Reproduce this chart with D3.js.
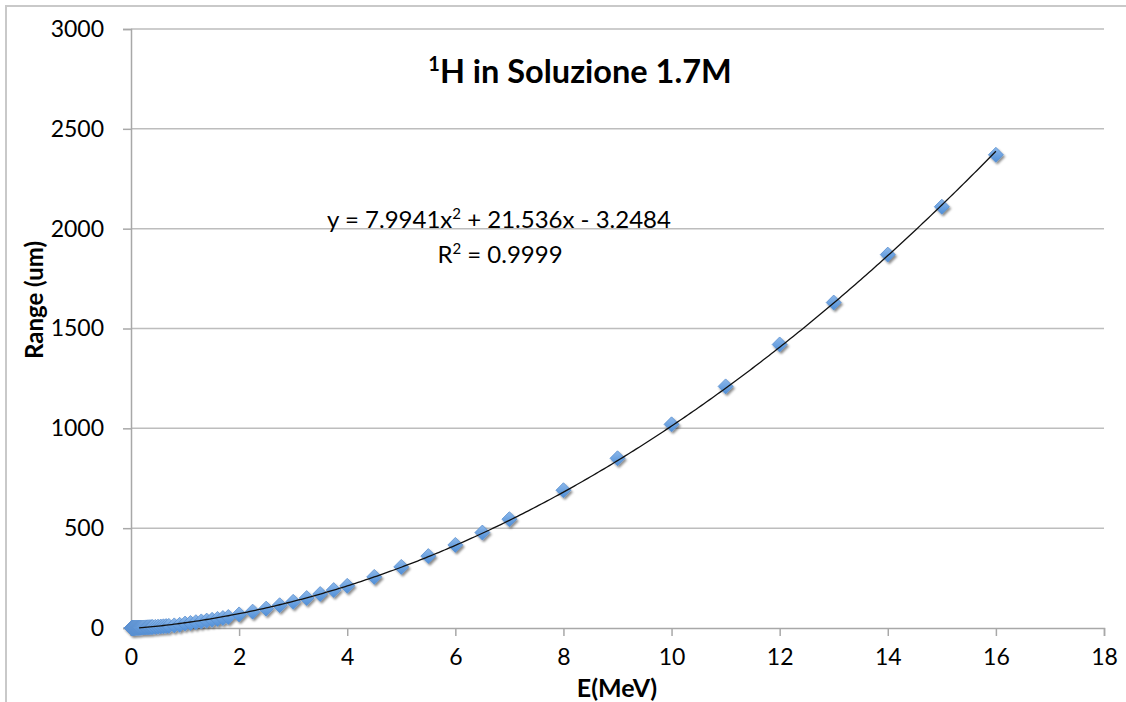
<!DOCTYPE html>
<html><head><meta charset="utf-8">
<script src="https://cdn.jsdelivr.net/npm/d3@7/dist/d3.min.js"></script>
<style>html,body{margin:0;padding:0;background:#fff;}svg{display:block;font-family:Lato,"Open Sans",sans-serif;}</style>
</head><body>
<svg id="c" width="1126" height="702"></svg>
<script>
// Energy (MeV)
const energy = [0.01,0.011,0.012,0.013,0.014,0.015,0.016,0.017,0.018,0.02,0.0225,0.025,0.0275,0.03,0.0325,0.035,0.0375,0.04,0.045,0.05,0.055,0.06,0.065,0.07,0.08,0.09,
  0.1,0.11,0.12,0.13,0.14,0.15,0.16,0.17,0.18,0.2,0.225,0.25,0.275,0.3,0.325,0.35,0.375,0.4,0.45,0.5,0.55,0.6,0.65,0.7,0.8,0.9,
  1.0,1.1,1.2,1.3,1.4,1.5,1.6,1.7,1.8,2.0,2.25,2.5,2.75,3.0,3.25,3.5,3.75,4.0,4.5,5.0,5.5,6.0,6.5,7.0,8,9,10,11,12,13,14,15,16];
// Range (um)
const range = [0.15,0.16,0.17,0.18,0.19,0.2,0.21,0.22,0.23,0.25,0.28,0.3,0.33,0.35,0.38,0.4,0.43,0.45,0.5,0.55,0.6,0.65,0.7,0.75,0.85,0.95,
  1.05,1.15,1.25,1.35,1.45,1.55,1.66,1.77,1.88,2.1,2.4,2.7,3.0,3.4,3.7,4.1,4.4,4.8,5.6,6.5,7.4,8.4,9.4,10.5,13,16,
  22,25,29,33,37,41,45.5,50,55,68,82,97,114,131,150,170,190,211,256,306,360,416,478,545,690,850,1020,1210,1420,1630,1870,2110,2370];
const xTicks = [0,2,4,6,8,10,12,14,16,18];
const yTicks = [0,500,1000,1500,2000,2500,3000];
const trendCoef = [7.9941, 21.536, -3.2484]; // y = a x^2 + b x + c (Excel trendline)
const titleMain = "H in Soluzione 1.7M", titleSup = "1";
const eqText = ["y = 7.9941x", "2", " + 21.536x - 3.2484"];
const r2Text = ["R", "2", " = 0.9999"];

const svg = d3.select("#c");
const L = 131, R = 1104, T = 29, B = 628;
const x = d3.scaleLinear().domain([0,18]).range([L,R]);
const y = d3.scaleLinear().domain([0,3000]).range([B,T]);

// outer frame
svg.append("rect").attr("x",6).attr("y",6).attr("width",1140).attr("height",720)
  .attr("fill","none").attr("stroke","#c9c9c9").attr("stroke-width",2);

const defs = svg.append("defs");
const g = defs.append("linearGradient").attr("id","dg").attr("x1","0").attr("y1","0").attr("x2","0").attr("y2","1");
g.append("stop").attr("offset","0").attr("stop-color","#8db8ea");
g.append("stop").attr("offset","1").attr("stop-color","#4f8fd8");
const f = defs.append("filter").attr("id","sh").attr("x","-50%").attr("y","-50%").attr("width","200%").attr("height","200%");
f.append("feDropShadow").attr("dx",1.5).attr("dy",2).attr("stdDeviation",1.2).attr("flood-color","#000").attr("flood-opacity",0.45);

// gridlines
svg.append("g").selectAll("line").data(yTicks.filter(d=>d>0)).join("line")
  .attr("x1",L).attr("x2",R).attr("y1",d=>y(d)).attr("y2",d=>y(d))
  .attr("stroke","#bdbdbd").attr("stroke-width",1.5);

// axes
const yAxis = svg.append("g").attr("transform",`translate(${L},0)`)
  .call(d3.axisLeft(y).tickValues(yTicks).tickSize(8).tickPadding(19).tickFormat(d3.format("d")));
const xAxis = svg.append("g").attr("transform",`translate(0,${B})`)
  .call(d3.axisBottom(x).tickValues(xTicks).tickSize(8).tickPadding(13).tickFormat(d3.format("d")));
[yAxis,xAxis].forEach(a=>{
  a.select(".domain").attr("stroke","#a8a8a8").attr("stroke-width",1.5);
  a.selectAll(".tick line").attr("stroke","#a8a8a8").attr("stroke-width",1.5);
  a.selectAll("text").attr("font-family","Lato, sans-serif").attr("font-size",23).attr("fill","#000");
});

// markers
const pts = energy.map((e,i)=>({e, r: range[i]}));
const s = 7.5;
svg.append("g").attr("filter","url(#sh)").selectAll("path").data(pts).join("path")
  .attr("d",d=>{const cx=x(d.e), cy=y(d.r); return `M${cx},${cy-s}L${cx+s},${cy}L${cx},${cy+s}L${cx-s},${cy}Z`;})
  .attr("fill","url(#dg)").attr("stroke","#5a8fcf").attr("stroke-width",0.8);

// trendline
const tx = d3.range(0.15, 16.001, 0.05);
const line = d3.line().x(d=>x(d)).y(d=>y(trendCoef[0]*d*d + trendCoef[1]*d + trendCoef[2])).curve(d3.curveLinear);
svg.append("path").datum(tx).attr("d",line).attr("fill","none").attr("stroke","#111").attr("stroke-width",1.3);

// title
const t = svg.append("text").attr("x",580).attr("y",83).attr("text-anchor","middle")
  .attr("font-family","Lato, sans-serif").attr("font-weight","bold").attr("font-size",32.5).attr("fill","#000");
t.append("tspan").attr("font-size",20).attr("dy",-12).text(titleSup);
t.append("tspan").attr("dy",12).text(titleMain);

// equation
function supText(xc, yb, parts){
  const tt = svg.append("text").attr("x",xc).attr("y",yb).attr("text-anchor","middle")
    .attr("font-family","Lato, sans-serif").attr("font-size",24).attr("fill","#000");
  tt.append("tspan").text(parts[0]);
  tt.append("tspan").attr("font-size",15).attr("dy",-9).text(parts[1]);
  tt.append("tspan").attr("dy",9).text(parts[2]);
}
supText(499, 228, eqText);
supText(500, 263, r2Text);

// axis titles
svg.append("text").attr("x",617).attr("y",697).attr("text-anchor","middle")
  .attr("font-family","Lato, sans-serif").attr("font-weight","bold").attr("font-size",25).text("E(MeV)");
svg.append("text").attr("transform","translate(43,300) rotate(-90)").attr("text-anchor","middle")
  .attr("font-family","Lato, sans-serif").attr("font-weight","bold").attr("font-size",24).text("Range (um)");
</script>
</body></html>
